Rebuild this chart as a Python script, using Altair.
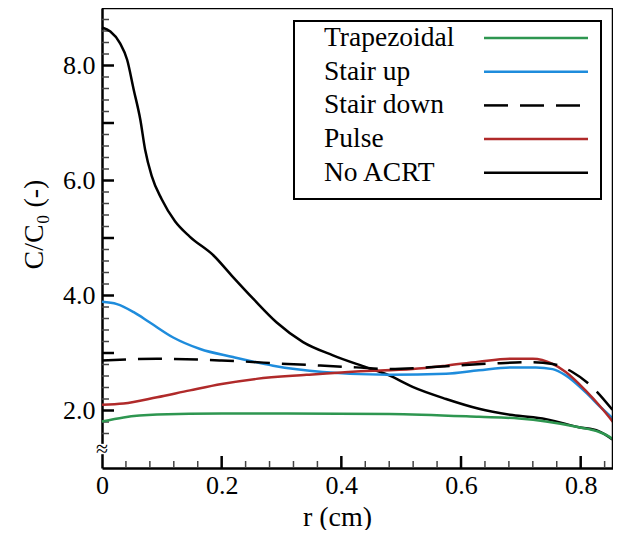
import altair as alt
import pandas as pd
import numpy as np

# ---------------- data ----------------
series_names = ["Trapezoidal", "Stair up", "Stair down", "Pulse", "No ACRT"]
series_colors = ["#2e9650", "#1e8cdc", "#000000", "#b02a2a", "#000000"]

r_trap = [0, 0.036, 0.092, 0.2, 0.31, 0.48, 0.63, 0.697, 0.742, 0.797, 0.83, 0.847, 0.854]
c_trap = [1.81, 1.88, 1.93, 1.95, 1.95, 1.94, 1.89, 1.86, 1.81, 1.71, 1.63, 1.55, 1.50]

r_up = [0, 0.025, 0.053, 0.08, 0.119, 0.164, 0.219, 0.286, 0.369, 0.48, 0.575, 0.63,
        0.686, 0.725, 0.753, 0.775, 0.808, 0.836, 0.854]
c_up = [3.89, 3.85, 3.71, 3.53, 3.27, 3.07, 2.93, 2.78, 2.67, 2.62, 2.64, 2.70,
        2.75, 2.75, 2.72, 2.61, 2.32, 2.03, 1.86]

r_down = [0, 0.092, 0.2, 0.31, 0.425, 0.48, 0.575, 0.658, 0.72, 0.753, 0.786, 0.814, 0.854]
c_down = [2.87, 2.90, 2.87, 2.81, 2.75, 2.72, 2.77, 2.82, 2.84, 2.81, 2.67, 2.46, 2.00]

r_pulse = [0, 0.036, 0.092, 0.147, 0.2, 0.258, 0.342, 0.425, 0.519, 0.575, 0.63, 0.686,
           0.72, 0.753, 0.775, 0.808, 0.836, 0.854]
c_pulse = [2.10, 2.12, 2.23, 2.35, 2.46, 2.55, 2.62, 2.68, 2.72, 2.78, 2.85, 2.90,
           2.90, 2.81, 2.67, 2.35, 2.03, 1.80]

r_none = [0, 0.014, 0.03, 0.042, 0.053, 0.064, 0.072, 0.083, 0.1, 0.122, 0.147, 0.186,
          0.219, 0.253, 0.292, 0.336, 0.386, 0.442, 0.48, 0.519, 0.575, 0.63, 0.686,
          0.742, 0.797, 0.83, 0.847, 0.854]
c_none = [8.66, 8.59, 8.39, 8.10, 7.58, 7.06, 6.54, 6.08, 5.67, 5.29, 5.02, 4.70,
          4.32, 3.94, 3.53, 3.19, 2.96, 2.75, 2.61, 2.41, 2.20, 2.03, 1.92,
          1.85, 1.71, 1.64, 1.54, 1.49]

x_labels = [0, 0.2, 0.4, 0.6, 0.8]
y_labels = [2, 4, 6, 8]
x_major = [0.2, 0.4, 0.6, 0.8]
x_minor = [round(v, 2) for v in np.arange(0.04, 0.85, 0.04) if abs(v / 0.2 - round(v / 0.2)) > 1e-6]
y_major = [2, 3, 4, 5, 6, 7, 8]
y_minor = [round(v, 1) for v in np.arange(1.6, 8.81, 0.2) if abs(v - round(v)) > 1e-6]

# ---------------- layout ----------------
W, H = 511, 460
FONT = "Liberation Serif"
X_DOM = [0, 0.854]
Y_DOM = [1.0, 9.0]
MAJ, MIN = 12, 7  # tick lengths in px

xs = alt.Scale(domain=X_DOM, nice=False, zero=False)
ys = alt.Scale(domain=Y_DOM, nice=False, zero=False)

xaxis = alt.Axis(values=x_labels,
                 labelExpr="datum.value == 0 ? '0' : format(datum.value, '.1f')",
                 ticks=False, tickSize=0, grid=False, domain=True,
                 domainColor="black", domainWidth=2.5,
                 labelFont=FONT, labelFontSize=26, labelColor="black",
                 labelPadding=4, labelFlush=False, labelOverlap=False,
                 title="r (cm)", titleFont=FONT, titleFontSize=28,
                 titleFontWeight="normal", titleColor="black",
                 titleX=235, titleY=35, titleBaseline="top", titleAlign="center")

yaxis = alt.Axis(values=y_labels, format=".1f",
                 ticks=False, tickSize=0, grid=False, domain=True,
                 domainColor="black", domainWidth=2.5,
                 labelFont=FONT, labelFontSize=26, labelColor="black",
                 labelPadding=7, labelOverlap=False,
                 title="C/C₀ (-)", titleFont=FONT, titleFontSize=28,
                 titleFontWeight="normal", titleColor="black",
                 titleX=-68, titleY=216, titleAngle=-90,
                 titleBaseline="middle", titleAlign="center")

X = alt.X("r:Q", scale=xs, axis=xaxis)
Y = alt.Y("C:Q", scale=ys, axis=yaxis)

one = pd.DataFrame({"a": [0]})
layers = []

# inward tick marks, lengths converted to data units
dx_per_px = (X_DOM[1] - X_DOM[0]) / W
dy_per_px = (Y_DOM[1] - Y_DOM[0]) / H


def yticks(vals, length, width, color):
    df = pd.DataFrame({"C": vals, "r": [0.0] * len(vals), "r2": [length * dx_per_px] * len(vals)})
    return alt.Chart(df).mark_rule(color=color, strokeWidth=width).encode(
        y=Y, x=X, x2="r2:Q")


def xticks(vals, length, width, color):
    df = pd.DataFrame({"r": vals, "C": [Y_DOM[0]] * len(vals),
                       "C2": [Y_DOM[0] + length * dy_per_px] * len(vals)})
    return alt.Chart(df).mark_rule(color=color, strokeWidth=width).encode(
        x=X, y=Y, y2="C2:Q")


layers += [yticks(y_major, MAJ, 2.5, "black"), yticks(y_minor, MIN, 1.5, "#444444"),
           xticks(x_major, MAJ, 2.5, "black"), xticks(x_minor, MIN, 1.5, "#444444")]

# curves
series = {
    "No ACRT": (r_none, c_none),
    "Trapezoidal": (r_trap, c_trap),
    "Stair up": (r_up, c_up),
    "Pulse": (r_pulse, c_pulse),
    "Stair down": (r_down, c_down),
}
for name, (rr, cc) in series.items():
    col = series_colors[series_names.index(name)]
    df = pd.DataFrame({"r": rr, "C": cc})
    mk = dict(color=col, strokeWidth=2.5, interpolate="monotone")
    if name == "Stair down":
        mk["strokeDash"] = [24, 12]
    layers.append(alt.Chart(df).mark_line(**mk).encode(x=X, y=Y))

# frame top / right
layers.append(alt.Chart(one).mark_rule(color="black", strokeWidth=2.5)
              .encode(x=alt.value(0), x2=alt.value(W), y=alt.value(0)))
layers.append(alt.Chart(one).mark_rule(color="black", strokeWidth=2.5)
              .encode(x=alt.value(W), y=alt.value(0), y2=alt.value(H)))

# axis break
layers.append(alt.Chart(pd.DataFrame({"C": [1.24], "C2": [1.42]})).mark_rect(fill="white")
              .encode(y=Y, y2="C2:Q", x=alt.value(-6), x2=alt.value(6)))
layers.append(alt.Chart(pd.DataFrame({"C": [1.33]})).mark_text(text="≈", font=FONT, fontSize=22,
                                                               color="black", baseline="middle")
              .encode(y=Y, x=alt.value(0)))

# legend
layers.append(alt.Chart(one).mark_rect(fill="white", stroke="black", strokeWidth=2)
              .encode(x=alt.value(192), x2=alt.value(499), y=alt.value(13), y2=alt.value(191)))
for i, name in enumerate(series_names):
    yy = 30 + i * 33.7
    layers.append(alt.Chart(one).mark_text(text=name, font=FONT, fontSize=27.5, color="black",
                                           align="left", baseline="middle")
                  .encode(x=alt.value(222), y=alt.value(yy)))
    mk = dict(color=series_colors[i], strokeWidth=2.5)
    if name == "Stair down":
        mk["strokeDash"] = [24, 12]
    layers.append(alt.Chart(one).mark_rule(**mk)
                  .encode(x=alt.value(382), x2=alt.value(486), y=alt.value(yy)))

chart = alt.layer(*layers).properties(
    width=W, height=H,
    autosize=alt.AutoSizeParams(type="none"),
    padding={"left": 94, "top": 0, "right": 0, "bottom": 62},
).configure_view(stroke="transparent")

chart.save("out.html", embed_options={"renderer": "svg", "actions": False})
